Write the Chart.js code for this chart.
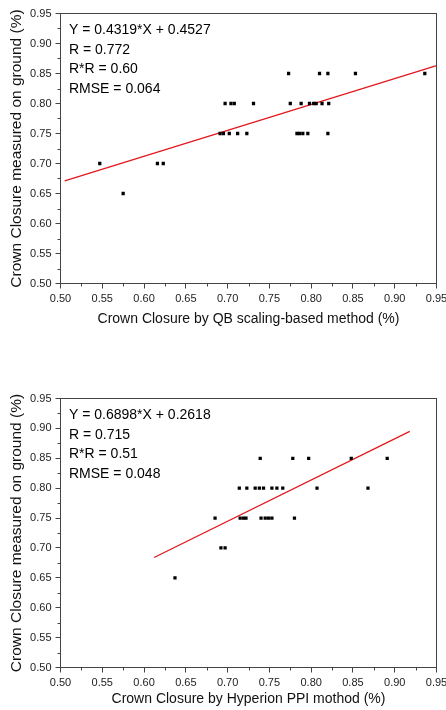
<!DOCTYPE html>
<html>
<head>
<meta charset="utf-8">
<title>Crown closure</title>
<script src="https://cdn.jsdelivr.net/npm/chart.js@4.4.1/dist/chart.umd.min.js"></script>
<style>
  html, body { margin: 0; padding: 0; background: #fff; overflow: hidden; }
  canvas { position: absolute; left: 0; }
  #chartTop { top: 0; }
  #chartBottom { top: 360px; }
</style>
</head>
<body>
<canvas id="chartTop" width="460" height="350"></canvas>
<canvas id="chartBottom" width="460" height="350"></canvas>
<script>
// tick values / labels shared by both axes of both plots
const tickValues = [0.50, 0.55, 0.60, 0.65, 0.70, 0.75, 0.80, 0.85, 0.90, 0.95];
const tickLabels = ['0.50', '0.55', '0.60', '0.65', '0.70', '0.75', '0.80', '0.85', '0.90', '0.95'];

// QB scaling-based method vs ground
const qbX = [
  0.547, 0.616, 0.623, 0.575,
  0.691, 0.695, 0.702, 0.712, 0.723, 0.783, 0.786, 0.790, 0.796, 0.820,
  0.697, 0.704, 0.708, 0.731, 0.775, 0.788, 0.798, 0.803, 0.806, 0.813, 0.821,
  0.773, 0.810, 0.820, 0.853, 0.936
];
const qbY = [
  0.70, 0.70, 0.70, 0.65,
  0.75, 0.75, 0.75, 0.75, 0.75, 0.75, 0.75, 0.75, 0.75, 0.75,
  0.80, 0.80, 0.80, 0.80, 0.80, 0.80, 0.80, 0.80, 0.80, 0.80, 0.80,
  0.85, 0.85, 0.85, 0.85, 0.85
];
const qbFitX = [0.505, 0.95];
const qbFitY = [0.671, 0.863];
const qbNotes = ['Y = 0.4319*X + 0.4527', 'R = 0.772', 'R*R = 0.60', 'RMSE = 0.064'];

// Hyperion PPI method vs ground
const ppiX = [
  0.637, 0.692, 0.697,
  0.685, 0.715, 0.719, 0.722, 0.740, 0.745, 0.749, 0.753, 0.780,
  0.714, 0.723, 0.733, 0.738, 0.743, 0.753, 0.759, 0.766, 0.807, 0.868,
  0.739, 0.778, 0.797, 0.848, 0.891
];
const ppiY = [
  0.65, 0.70, 0.70,
  0.75, 0.75, 0.75, 0.75, 0.75, 0.75, 0.75, 0.75, 0.75,
  0.80, 0.80, 0.80, 0.80, 0.80, 0.80, 0.80, 0.80, 0.80, 0.80,
  0.85, 0.85, 0.85, 0.85, 0.85
];
const ppiFitX = [0.612, 0.918];
const ppiFitY = [0.684, 0.895];
const ppiNotes = ['Y = 0.6898*X + 0.2618', 'R = 0.715', 'R*R = 0.51', 'RMSE = 0.048'];

Chart.defaults.font.family = '"Liberation Sans", Arial, sans-serif';
Chart.defaults.color = '#222';

// frame, minor ticks and the stats text
const framePlugin = {
  id: 'frame',
  afterDraw(chart) {
    const ctx = chart.ctx;
    const a = chart.chartArea;
    const xs = chart.scales.x, ys = chart.scales.y;
    ctx.save();
    ctx.strokeStyle = '#444';
    ctx.lineWidth = 1;
    ctx.strokeRect(a.left, a.top, a.right - a.left, a.bottom - a.top);
    ctx.beginPath();
    for (let i = 0; i < tickValues.length - 1; i++) {
      const m = (tickValues[i] + tickValues[i + 1]) / 2;
      const px = Math.round(xs.getPixelForValue(m)) + 0.5;
      ctx.moveTo(px, a.bottom);
      ctx.lineTo(px, a.bottom + 3);
      const py = Math.round(ys.getPixelForValue(m)) + 0.5;
      ctx.moveTo(a.left, py);
      ctx.lineTo(a.left - 3, py);
    }
    ctx.stroke();

    const notes = chart.options.plugins.frame.notes;
    ctx.fillStyle = '#000';
    ctx.font = '14px "Liberation Sans", Arial, sans-serif';
    ctx.textBaseline = 'middle';
    notes.forEach((t, i) => {
      ctx.fillText(t, a.left + 8.5, a.top + 17 + i * 19.5);
    });
    ctx.restore();
  }
};

function makeChart(id, xs, ys, fitX, fitY, notes, xTitle, lay) {
  const pts = xs.map((x, i) => ({ x: x, y: ys[i] }));
  const fit = fitX.map((x, i) => ({ x: x, y: fitY[i] }));
  const tickCfg = {
    font: { size: 11 },
    color: '#222',
    padding: 4,
    autoSkip: false,
    maxRotation: 0,
    callback: (v, i) => tickLabels[i]
  };
  const gridCfg = { drawOnChartArea: false, drawTicks: true, tickLength: 5, tickColor: '#444' };
  return new Chart(document.getElementById(id), {
    type: 'scatter',
    data: {
      datasets: [
        {
          data: pts,
          pointStyle: 'rect',
          pointRadius: 2.3,
          backgroundColor: '#000',
          borderColor: '#000',
          borderWidth: 0
        },
        {
          data: fit,
          showLine: true,
          borderColor: '#e3171c',
          borderWidth: 1.3,
          pointRadius: 0,
          fill: false
        }
      ]
    },
    options: {
      responsive: false,
      animation: false,
      events: [],
      layout: { padding: { left: 0, right: 23.5, top: lay.top, bottom: lay.bottom } },
      plugins: {
        legend: { display: false },
        tooltip: { enabled: false },
        frame: { notes: notes }
      },
      scales: {
        x: {
          type: 'linear',
          min: 0.5,
          max: 0.95,
          afterBuildTicks: s => { s.ticks = tickValues.map(v => ({ value: v })); },
          afterFit: s => { s.height = lay.xH; },
          ticks: tickCfg,
          grid: gridCfg,
          border: { display: false },
          title: {
            display: true,
            text: xTitle,
            color: '#111',
            font: { size: 14 },
            padding: { top: 0, bottom: lay.xTitlePad }
          }
        },
        y: {
          type: 'linear',
          min: 0.5,
          max: 0.95,
          afterBuildTicks: s => { s.ticks = tickValues.map(v => ({ value: v })); },
          afterFit: s => { s.width = 60.5; },
          ticks: tickCfg,
          grid: gridCfg,
          border: { display: false },
          title: {
            display: true,
            text: 'Crown Closure measured on ground (%)',
            color: '#111',
            font: { size: 15.5 },
            padding: { top: 7.4, bottom: 0 }
          }
        }
      }
    },
    plugins: [framePlugin]
  });
}

makeChart('chartTop', qbX, qbY, qbFitX, qbFitY, qbNotes,
  'Crown Closure by QB scaling-based method (%)',
  { top: 13.5, bottom: 16.5, xH: 50, xTitlePad: 5.8 });

makeChart('chartBottom', ppiX, ppiY, ppiFitX, ppiFitY, ppiNotes,
  'Crown Closure by Hyperion PPI mothod (%)',
  { top: 38.5, bottom: 0, xH: 42.5, xTitlePad: 2.6 });
</script>
</body>
</html>
